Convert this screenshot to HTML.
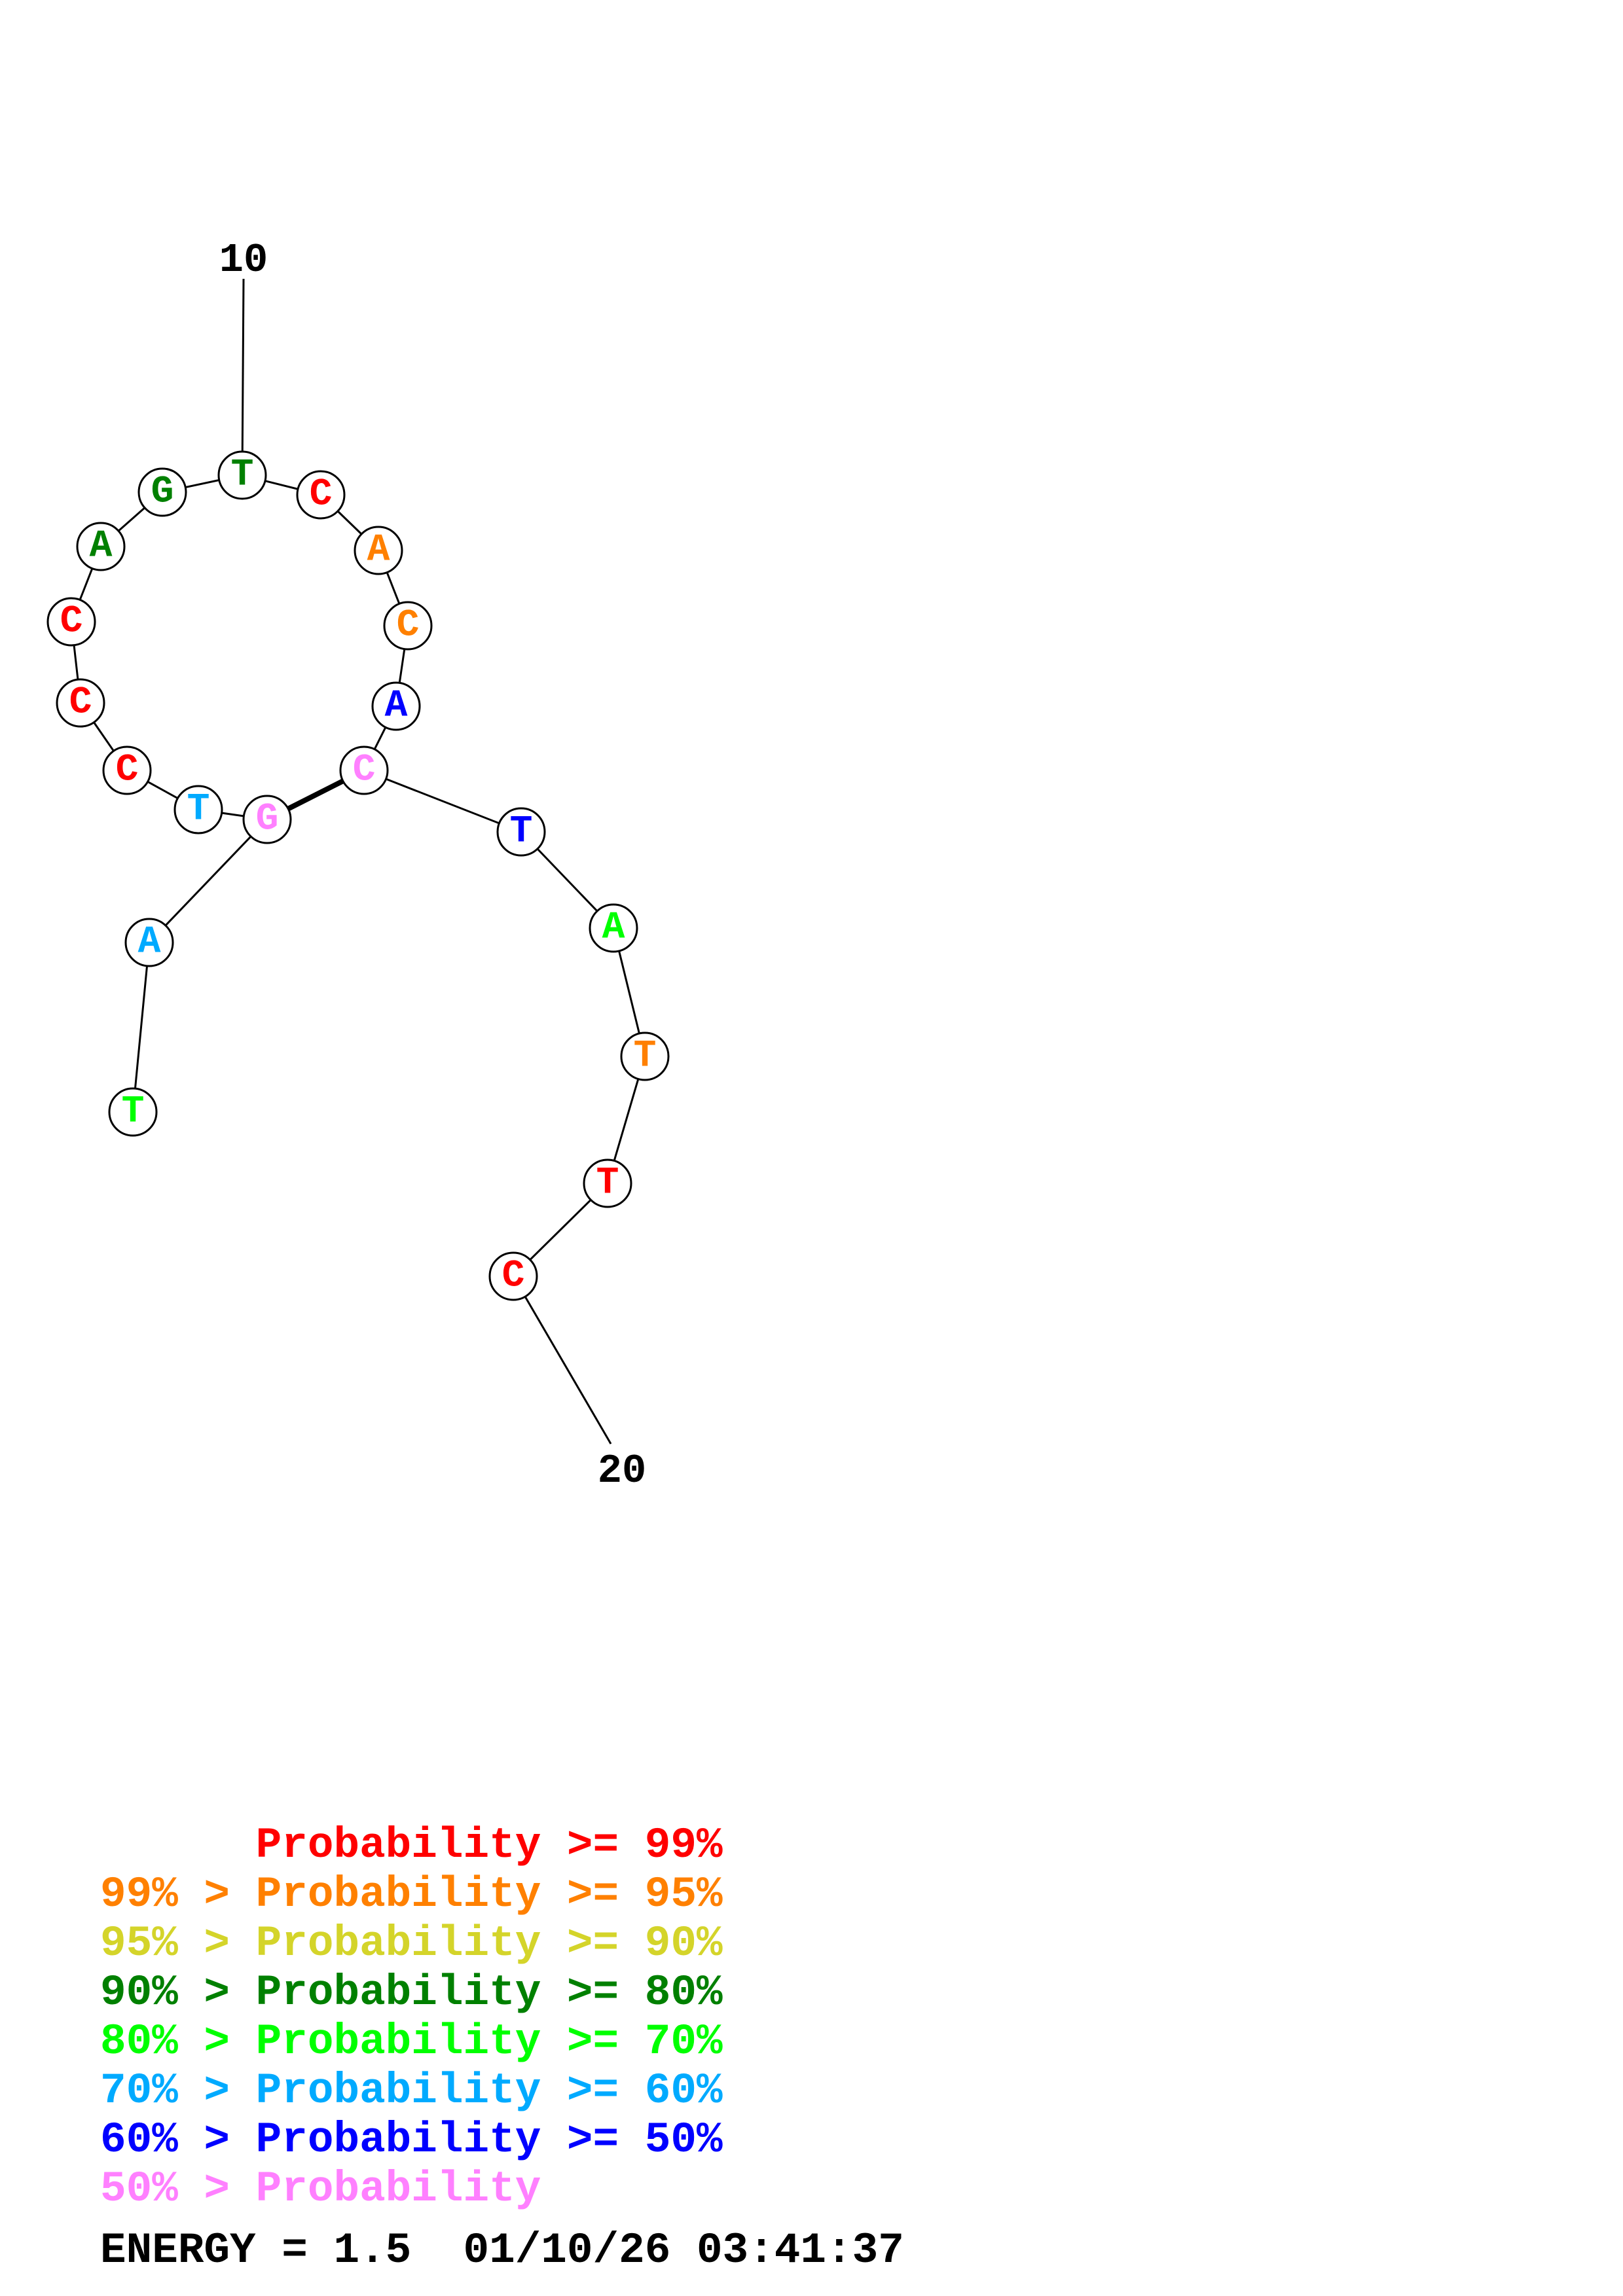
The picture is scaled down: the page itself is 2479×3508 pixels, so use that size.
<!DOCTYPE html>
<html><head><meta charset="utf-8"><style>
html,body{margin:0;padding:0;background:#fff;}
svg{display:block;}
text{font-family:"Liberation Mono",monospace;font-weight:bold;white-space:pre;}
</style></head><body>
<svg width="2479" height="3508" viewBox="0 0 2479 3508" xmlns="http://www.w3.org/2000/svg">
<rect width="2479" height="3508" fill="#fff"/>
<g stroke="#000" stroke-width="3" fill="none">
<line x1="372" y1="426" x2="370" y2="726"/>
<polyline points="370,726 248,752 154,835 109,950 123,1074 194,1177 303,1237 408,1252"/>
<polyline points="370,726 490,756 578,841 623,956 605,1079 556,1177 796,1271 937,1418 985,1614 928,1808 784,1950 933,2206"/>
<line x1="408" y1="1252" x2="228" y2="1440"/>
<line x1="228" y1="1440" x2="203" y2="1699"/>
<line x1="408" y1="1252" x2="556" y2="1177" stroke-width="8"/>
</g>
<g stroke="#000" stroke-width="3" fill="#fff">
<circle cx="370" cy="726" r="36"/><circle cx="248" cy="752" r="36"/><circle cx="154" cy="835" r="36"/>
<circle cx="109" cy="950" r="36"/><circle cx="123" cy="1074" r="36"/><circle cx="194" cy="1177" r="36"/>
<circle cx="303" cy="1237" r="36"/><circle cx="408" cy="1252" r="36"/><circle cx="556" cy="1177" r="36"/>
<circle cx="605" cy="1079" r="36"/><circle cx="623" cy="956" r="36"/><circle cx="578" cy="841" r="36"/>
<circle cx="490" cy="756" r="36"/><circle cx="796" cy="1271" r="36"/><circle cx="937" cy="1418" r="36"/>
<circle cx="985" cy="1614" r="36"/><circle cx="928" cy="1808" r="36"/><circle cx="784" cy="1950" r="36"/>
<circle cx="228" cy="1440" r="36"/><circle cx="203" cy="1699" r="36"/>
</g>
<g font-size="58" text-anchor="middle" dominant-baseline="central">
<text x="370" y="726" fill="#008000">T</text>
<text x="248" y="752" fill="#008000">G</text>
<text x="154" y="835" fill="#008000">A</text>
<text x="109" y="950" fill="#ff0000">C</text>
<text x="123" y="1074" fill="#ff0000">C</text>
<text x="194" y="1177" fill="#ff0000">C</text>
<text x="303" y="1237" fill="#00aaff">T</text>
<text x="408" y="1252" fill="#ff80ff">G</text>
<text x="556" y="1177" fill="#ff80ff">C</text>
<text x="605" y="1079" fill="#0000ff">A</text>
<text x="623" y="956" fill="#ff8000">C</text>
<text x="578" y="841" fill="#ff8000">A</text>
<text x="490" y="756" fill="#ff0000">C</text>
<text x="796" y="1271" fill="#0000ff">T</text>
<text x="937" y="1418" fill="#00ff00">A</text>
<text x="985" y="1614" fill="#ff8000">T</text>
<text x="928" y="1808" fill="#ff0000">T</text>
<text x="784" y="1950" fill="#ff0000">C</text>
<text x="228" y="1440" fill="#00aaff">A</text>
<text x="203" y="1699" fill="#00ff00">T</text>
</g>
<g font-size="62" text-anchor="middle" fill="#000">
<text x="372" y="414">10</text>
<text x="950" y="2264">20</text>
</g>
<g font-size="66">
<text x="153" y="2837" fill="#ff0000">      Probability &gt;= 99%</text>
<text x="153" y="2912" fill="#ff8000">99% &gt; Probability &gt;= 95%</text>
<text x="153" y="2987" fill="#d4d42a">95% &gt; Probability &gt;= 90%</text>
<text x="153" y="3062" fill="#008000">90% &gt; Probability &gt;= 80%</text>
<text x="153" y="3137" fill="#00ff00">80% &gt; Probability &gt;= 70%</text>
<text x="153" y="3212" fill="#00aaff">70% &gt; Probability &gt;= 60%</text>
<text x="153" y="3287" fill="#0000ff">60% &gt; Probability &gt;= 50%</text>
<text x="153" y="3362" fill="#ff80ff">50% &gt; Probability</text>
<text x="153" y="3456" fill="#000">ENERGY = 1.5  01/10/26 03:41:37</text>
</g>
</svg>
</body></html>
